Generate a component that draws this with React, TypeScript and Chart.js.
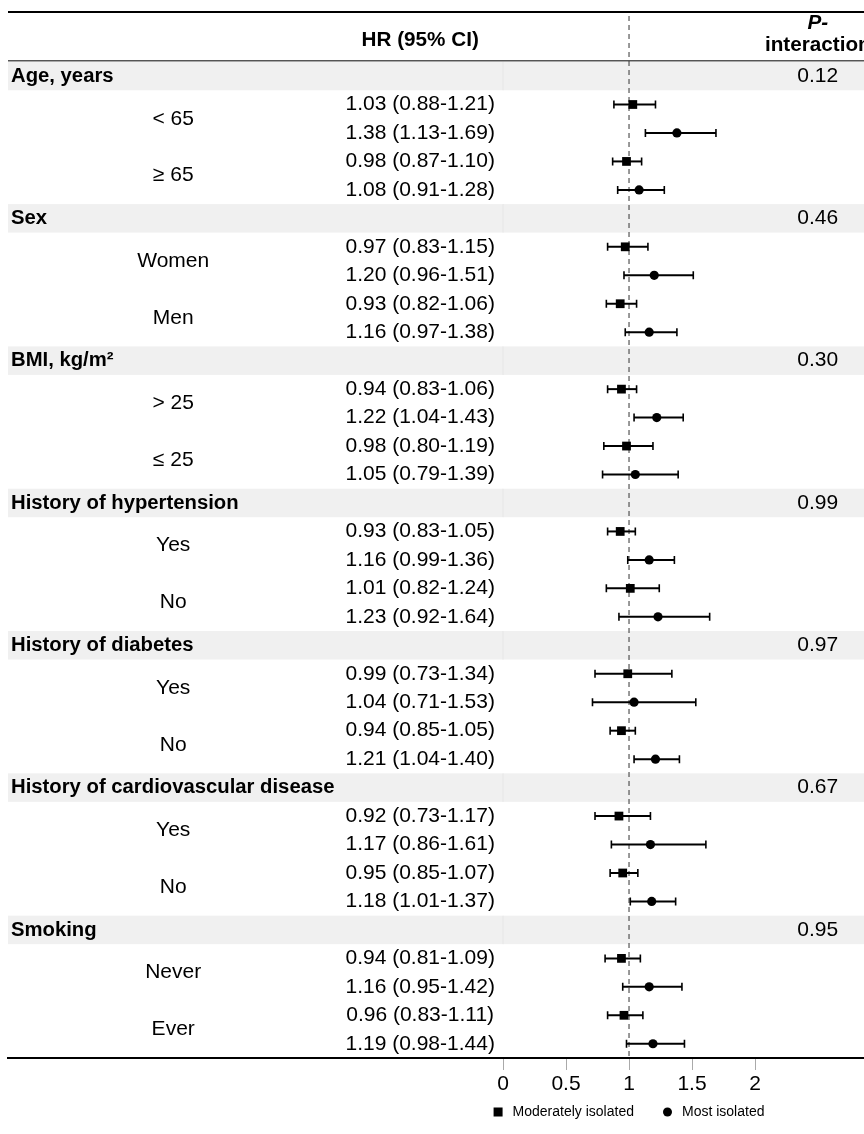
import { useEffect, useRef } from 'react';
import { Chart, registerables } from 'chart.js';

Chart.register(...registerables);

const groupLabels = [
  'Age, years',
  'Sex',
  'BMI, kg/m²',
  'History of hypertension',
  'History of diabetes',
  'History of cardiovascular disease',
  'Smoking',
];
const pInteraction = ['0.12', '0.46', '0.30', '0.99', '0.97', '0.67', '0.95'];
const subgroupLabels = [
  ['< 65', '≥ 65'],
  ['Women', 'Men'],
  ['> 25', '≤ 25'],
  ['Yes', 'No'],
  ['Yes', 'No'],
  ['Yes', 'No'],
  ['Never', 'Ever'],
];
const moderateHR = [1.03, 0.98, 0.97, 0.93, 0.94, 0.98, 0.93, 1.01, 0.99, 0.94, 0.92, 0.95, 0.94, 0.96];
const moderateLow = [0.88, 0.87, 0.83, 0.82, 0.83, 0.8, 0.83, 0.82, 0.73, 0.85, 0.73, 0.85, 0.81, 0.83];
const moderateHigh = [1.21, 1.1, 1.15, 1.06, 1.06, 1.19, 1.05, 1.24, 1.34, 1.05, 1.17, 1.07, 1.09, 1.11];
const mostHR = [1.38, 1.08, 1.2, 1.16, 1.22, 1.05, 1.16, 1.23, 1.04, 1.21, 1.17, 1.18, 1.16, 1.19];
const mostLow = [1.13, 0.91, 0.96, 0.97, 1.04, 0.79, 0.99, 0.92, 0.71, 1.04, 0.86, 1.01, 0.95, 0.98];
const mostHigh = [1.69, 1.28, 1.51, 1.38, 1.43, 1.39, 1.36, 1.64, 1.53, 1.4, 1.61, 1.37, 1.42, 1.44];
const xTicks = [0, 0.5, 1, 1.5, 2];
const seriesNames = ['Moderately isolated', 'Most isolated'];
const headerHR = 'HR (95% CI)';
const headerP1 = 'P-';
const headerP2 = 'interaction';

const FONT = "'Liberation Sans', Arial, Helvetica, sans-serif";

const rowOf = (k: number, series: number) => {
  const g = Math.floor(k / 2);
  const s = k % 2;
  return g * 5 + 1 + 2 * s + series;
};
const fmt = (hr: number, lo: number, hi: number) =>
  `${hr.toFixed(2)} (${lo.toFixed(2)}-${hi.toFixed(2)})`;

const forestPlugin = {
  id: 'forestTable',
  beforeDatasetsDraw(chart: any) {
    const { ctx, chartArea, scales } = chart;
    const x = scales.x;
    const y = scales.y;
    const left = chartArea.left;
    const right = chartArea.right;
    const pitch = Math.abs(y.getPixelForValue(1) - y.getPixelForValue(0));
    const hrX = left + (right - left) * 0.4815;
    const subX = left + (right - left) * 0.193;
    const pX = left + (right - left) * 0.946;
    ctx.save();

    // group bands
    const x0 = x.getPixelForValue(0);
    groupLabels.forEach((_, g) => {
      const yc = y.getPixelForValue(g * 5);
      ctx.fillStyle = '#f0f0f0';
      ctx.fillRect(left, yc - pitch / 2, right - left, pitch);
      ctx.fillStyle = '#e6e6e6';
      ctx.fillRect(x0 - 0.5, yc - pitch / 2, 1, pitch);
    });

    // top line
    ctx.strokeStyle = '#000';
    ctx.lineWidth = 2;
    ctx.beginPath();
    ctx.moveTo(left, chartArea.top);
    ctx.lineTo(right, chartArea.top);
    ctx.stroke();

    // header line
    const hy = y.getPixelForValue(-0.54);
    ctx.strokeStyle = '#555';
    ctx.lineWidth = 1.5;
    ctx.beginPath();
    ctx.moveTo(left, hy);
    ctx.lineTo(right, hy);
    ctx.stroke();

    // reference line at 1
    const x1 = x.getPixelForValue(1);
    ctx.strokeStyle = '#333';
    ctx.lineWidth = 1;
    ctx.setLineDash([5, 4]);
    ctx.beginPath();
    ctx.moveTo(x1, chartArea.top + 4);
    ctx.lineTo(x1, chartArea.bottom);
    ctx.stroke();
    ctx.setLineDash([]);

    // error bars
    ctx.strokeStyle = '#000';
    const drawBar = (lo: number, hi: number, row: number) => {
      const yc = y.getPixelForValue(row);
      const xl = x.getPixelForValue(lo);
      const xh = x.getPixelForValue(hi);
      ctx.lineWidth = 2;
      ctx.beginPath();
      ctx.moveTo(xl, yc);
      ctx.lineTo(xh, yc);
      ctx.stroke();
      ctx.lineWidth = 1.6;
      ctx.beginPath();
      ctx.moveTo(xl, yc - 4);
      ctx.lineTo(xl, yc + 4);
      ctx.moveTo(xh, yc - 4);
      ctx.lineTo(xh, yc + 4);
      ctx.stroke();
    };
    moderateHR.forEach((_, k) => {
      drawBar(moderateLow[k], moderateHigh[k], rowOf(k, 0));
      drawBar(mostLow[k], mostHigh[k], rowOf(k, 1));
    });

    // texts
    ctx.fillStyle = '#000';
    ctx.textBaseline = 'middle';
    ctx.font = `bold 20.7px ${FONT}`;
    ctx.textAlign = 'center';
    ctx.fillText(headerHR, hrX, y.getPixelForValue(-1.27));
    ctx.fillText(headerP2, pX, y.getPixelForValue(-1.09));
    ctx.font = `italic bold 20.7px ${FONT}`;
    ctx.fillText(headerP1, pX, y.getPixelForValue(-1.87));

    groupLabels.forEach((label, g) => {
      const yc = y.getPixelForValue(g * 5);
      ctx.font = `bold 20.3px ${FONT}`;
      ctx.textAlign = 'left';
      ctx.fillText(label, left + 3, yc);
      ctx.font = `21px ${FONT}`;
      ctx.textAlign = 'center';
      ctx.fillText(pInteraction[g], pX, yc);
      subgroupLabels[g].forEach((s, si) => {
        const ys = y.getPixelForValue(g * 5 + 1.5 + 2 * si);
        ctx.fillText(s, subX, ys);
      });
    });
    ctx.font = `21px ${FONT}`;
    ctx.textAlign = 'center';
    moderateHR.forEach((_, k) => {
      ctx.fillText(fmt(moderateHR[k], moderateLow[k], moderateHigh[k]), hrX, y.getPixelForValue(rowOf(k, 0)));
      ctx.fillText(fmt(mostHR[k], mostLow[k], mostHigh[k]), hrX, y.getPixelForValue(rowOf(k, 1)));
    });
    ctx.restore();
  },
  afterDraw(chart: any) {
    const { ctx, scales } = chart;
    const x = scales.x;
    ctx.save();
    ctx.font = `14px ${FONT}`;
    ctx.textBaseline = 'middle';
    ctx.textAlign = 'left';
    ctx.fillStyle = '#000';
    const marker = 9;
    const gapText = 10;
    const gapItem = 29;
    const w0 = ctx.measureText(seriesNames[0]).width;
    const w1 = ctx.measureText(seriesNames[1]).width;
    const total = marker + gapText + w0 + gapItem + marker + gapText + w1;
    let cx = x.getPixelForValue(1) - total / 2;
    const ly = 1112;
    ctx.fillRect(cx, ly - marker / 2, marker, marker);
    cx += marker + gapText;
    ctx.fillText(seriesNames[0], cx, ly);
    cx += w0 + gapItem;
    ctx.beginPath();
    ctx.arc(cx + marker / 2, ly, marker / 2, 0, Math.PI * 2);
    ctx.fill();
    cx += marker + gapText;
    ctx.fillText(seriesNames[1], cx, ly);
    ctx.restore();
  },
};

export default function App() {
  const canvasRef = useRef<HTMLCanvasElement | null>(null);

  useEffect(() => {
    if (!canvasRef.current) return;
    const chart = new Chart(canvasRef.current, {
      type: 'scatter',
      data: {
        datasets: [
          {
            label: seriesNames[0],
            data: moderateHR.map((v, k) => ({ x: v, y: rowOf(k, 0) })),
            pointStyle: 'rect',
            pointRadius: 6.2,
            pointBorderWidth: 0,
            backgroundColor: '#000',
            borderColor: '#000',
          },
          {
            label: seriesNames[1],
            data: mostHR.map((v, k) => ({ x: v, y: rowOf(k, 1) })),
            pointStyle: 'circle',
            pointRadius: 4.6,
            pointBorderWidth: 0,
            backgroundColor: '#000',
            borderColor: '#000',
          },
        ],
      },
      options: {
        animation: false,
        responsive: false,
        devicePixelRatio: 1,
        layout: { autoPadding: false, padding: { left: 8, top: 12, right: 0, bottom: 0 } },
        plugins: {
          legend: { display: false },
          tooltip: { enabled: false },
        },
        scales: {
          x: {
            type: 'linear',
            min: -3.929,
            max: 2.865,
            afterBuildTicks: (scale: any) => {
              scale.ticks = xTicks.map((v) => ({ value: v }));
            },
            afterFit: (scale: any) => {
              scale.height = 76;
            },
            grid: {
              display: true,
              drawOnChartArea: false,
              drawTicks: true,
              tickLength: 12,
              color: '#aaa',
              lineWidth: 1,
            },
            border: { display: true, color: '#000', width: 2 },
            ticks: {
              color: '#000',
              font: { family: FONT, size: 21 },
              padding: 2,
              maxRotation: 0,
              autoSkip: false,
              callback: (v: any) => String(v),
            },
          },
          y: {
            type: 'linear',
            display: false,
            reverse: true,
            min: -2.25,
            max: 34.5,
          },
        },
      },
      plugins: [forestPlugin],
    });
    return () => chart.destroy();
  }, []);

  return (
    <div style={{ position: 'fixed', left: 0, top: 0, width: 864, height: 1134, background: '#fff', overflow: 'hidden' }}>
      <canvas ref={canvasRef} width={864} height={1134} style={{ width: 864, height: 1134, display: 'block' }} />
    </div>
  );
}
